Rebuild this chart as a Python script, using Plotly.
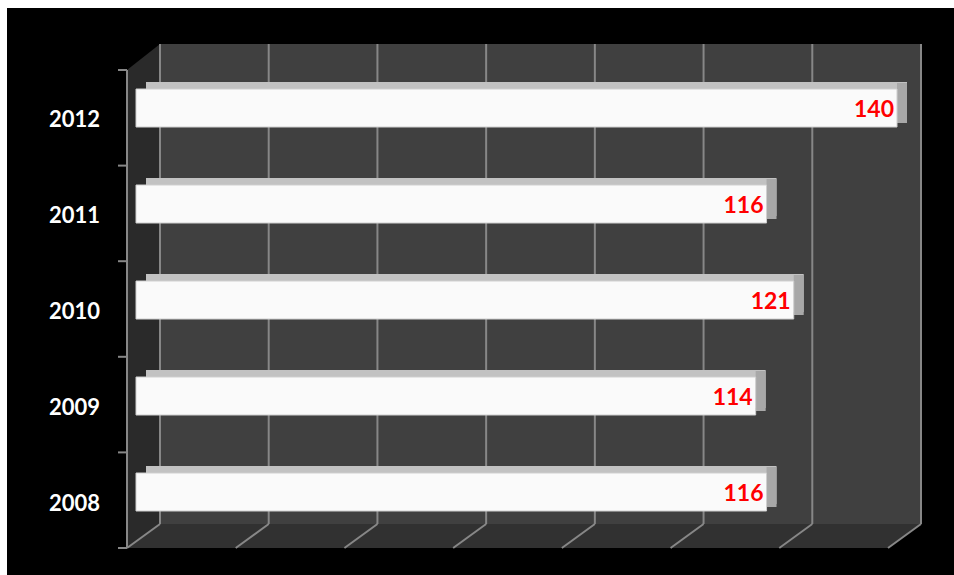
import plotly.graph_objects as go

# ---- data ----
years = ["2008", "2009", "2010", "2011", "2012"]
values = [116, 114, 121, 116, 140]
positions = [0, 1, 2, 3, 4]
grid_values = [0, 20, 40, 60, 80, 100, 120, 140]

# ---- layout constants ----
W, H = 954, 575
ML, MR, MT, MB = 110, 24, 40, 23
PW, PH = W - ML - MR, H - MT - MB
PX_PER_UNIT = 761 / 140.0
XMIN = -(136 - ML) / PX_PER_UNIT
XMAX = XMIN + PW / PX_PER_UNIT
SLOT_PX = 96.0
YMIN = -(552 - 503) / SLOT_PX
YMAX = YMIN + PH / SLOT_PX

DEPTH_U = 10 / PX_PER_UNIT  # bar depth shift in data units


def xpx(v):
    return ML + (v - XMIN) * PX_PER_UNIT


def px2paper_x(px):
    return (px - ML) / PW


def px2paper_y(py):
    return (H - MB - py) / PH


# 3D box geometry (pixels)
DXF, DXB = -9, 24          # front / back plane shift vs bar plane
FRONT_BOT, BACK_BOT = 548, 524
FRONT_TOP, BACK_TOP = 70, 44

shapes = []
# white frame on left and top (page edge)
shapes.append(dict(type="rect", xref="paper", yref="paper",
                   x0=px2paper_x(-2), x1=px2paper_x(7),
                   y0=px2paper_y(H + 2), y1=px2paper_y(-2),
                   fillcolor="#ffffff", line_width=0, layer="below"))
shapes.append(dict(type="rect", xref="paper", yref="paper",
                   x0=px2paper_x(-2), x1=px2paper_x(W + 2),
                   y0=px2paper_y(8), y1=px2paper_y(-2),
                   fillcolor="#ffffff", line_width=0, layer="below"))
x0b, x1b = xpx(0) + DXB, xpx(max(grid_values)) + DXB
x0f, x1f = xpx(0) + DXF, xpx(max(grid_values)) + DXF
# back wall
shapes.append(dict(type="rect", xref="paper", yref="paper",
                   x0=px2paper_x(x0b), x1=px2paper_x(x1b),
                   y0=px2paper_y(BACK_BOT), y1=px2paper_y(BACK_TOP),
                   fillcolor="#404040", line_width=0, layer="below"))


def pth(pts):
    return "M " + " L ".join(f"{px2paper_x(a):.5f},{px2paper_y(b):.5f}" for a, b in pts) + " Z"


# floor
shapes.append(dict(type="path", xref="paper", yref="paper",
                   path=pth([(x0f, FRONT_BOT), (x0b, BACK_BOT), (x1b, BACK_BOT), (x1f, FRONT_BOT)]),
                   fillcolor="#313131", line_width=0, layer="below"))
# side wall
shapes.append(dict(type="path", xref="paper", yref="paper",
                   path=pth([(x0f, FRONT_TOP), (x0b, BACK_TOP), (x0b, BACK_BOT), (x0f, FRONT_BOT)]),
                   fillcolor="#2a2a2a", line_width=0, layer="below"))
GRID = "#878787"
for v in grid_values:
    xb = xpx(v) + DXB
    xf = xpx(v) + DXF
    shapes.append(dict(type="line", xref="paper", yref="paper",
                       x0=px2paper_x(xb), x1=px2paper_x(xb),
                       y0=px2paper_y(BACK_BOT), y1=px2paper_y(BACK_TOP),
                       line=dict(color=GRID, width=2), layer="below"))
    shapes.append(dict(type="line", xref="paper", yref="paper",
                       x0=px2paper_x(xf), x1=px2paper_x(xb),
                       y0=px2paper_y(FRONT_BOT), y1=px2paper_y(BACK_BOT),
                       line=dict(color=GRID, width=2), layer="below"))
# front axis line of side wall
shapes.append(dict(type="line", xref="paper", yref="paper",
                   x0=px2paper_x(x0f), x1=px2paper_x(x0f),
                   y0=px2paper_y(FRONT_BOT), y1=px2paper_y(FRONT_TOP),
                   line=dict(color=GRID, width=2), layer="below"))
n = len(years)
for j in range(n + 1):
    py = FRONT_BOT - j * (FRONT_BOT - FRONT_TOP) / n
    shapes.append(dict(type="line", xref="paper", yref="paper",
                       x0=px2paper_x(x0f - 9), x1=px2paper_x(x0f),
                       y0=px2paper_y(py), y1=px2paper_y(py),
                       line=dict(color=GRID, width=2), layer="below"))

BAR_W = 38 / SLOT_PX
OFF_WHITE = -8 / SLOT_PX
OFF_TOP = OFF_WHITE + 7 / SLOT_PX

fig = go.Figure()
# top face of 3D bars
fig.add_trace(go.Bar(y=positions, x=values, base=DEPTH_U, orientation="h",
                     width=BAR_W, offset=OFF_TOP,
                     marker=dict(color="#c2c2c2", line_width=0),
                     hoverinfo="skip", showlegend=False))
# side face
fig.add_trace(go.Bar(y=positions, x=[DEPTH_U] * len(values), base=values, orientation="h",
                     width=BAR_W + 2 / SLOT_PX, offset=OFF_WHITE + 4 / SLOT_PX,
                     marker=dict(color="#a8a8a8", line_width=0),
                     hoverinfo="skip", showlegend=False))
# front face
fig.add_trace(go.Bar(y=positions, x=values, orientation="h",
                     width=BAR_W, offset=OFF_WHITE,
                     marker=dict(color="#fafafa", line=dict(color="#cfcfcf", width=1)),
                     text=[str(v) for v in values], textposition="inside",
                     insidetextanchor="end", constraintext="none", textangle=0,
                     textfont=dict(color="#ff0000", size=23, family="Lato", weight="bold"),
                     hoverinfo="skip", showlegend=False))

fig.update_layout(
    template="none",
    width=W, height=H,
    margin=dict(l=ML, r=MR, t=MT, b=MB, autoexpand=False),
    paper_bgcolor="#000000",
    plot_bgcolor="rgba(0,0,0,0)",
    barmode="overlay",
    shapes=shapes,
    xaxis=dict(range=[XMIN, XMAX], visible=False, showgrid=False, zeroline=False, automargin=False),
    yaxis=dict(range=[YMIN, YMAX], tickvals=positions, ticktext=years,
               showgrid=False, zeroline=False, showline=False, ticks="",
               ticklabelstandoff=9, automargin=False,
               tickfont=dict(color="#ffffff", size=22, family="Lato", weight="bold")),
)

fig.write_html("out.html")
